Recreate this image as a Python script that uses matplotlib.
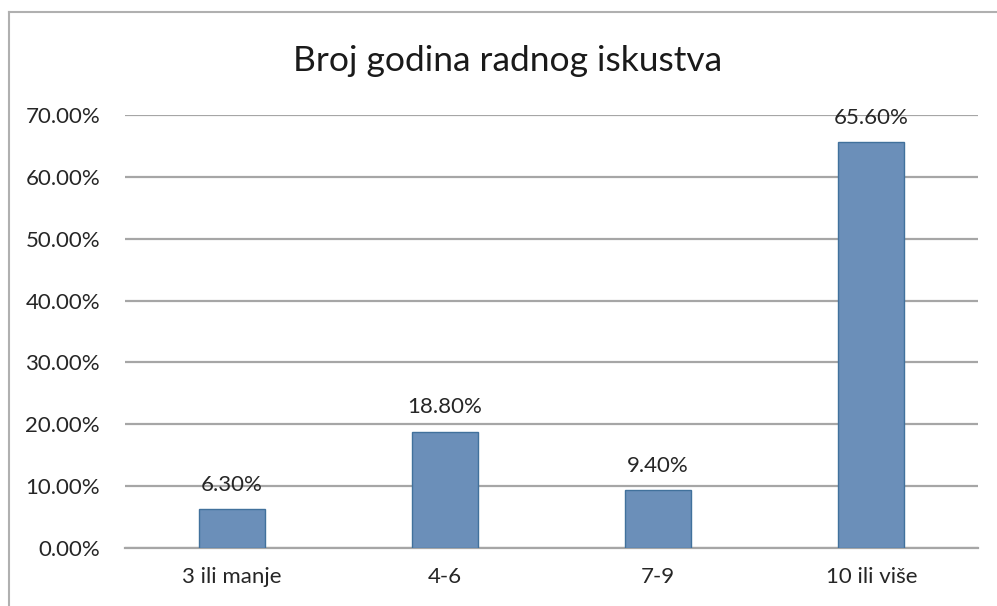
import matplotlib
matplotlib.use("Agg")
import matplotlib.pyplot as plt
import matplotlib.ticker as ticker
from matplotlib.lines import Line2D

categories = ["3 ili manje", "4-6", "7-9", "10 ili više"]
values = [6.3, 18.8, 9.4, 65.6]
yticks = [0, 10, 20, 30, 40, 50, 60, 70]

plt.rcParams['font.family'] = ['Lato', 'DejaVu Sans']

fig = plt.figure(figsize=(9.97, 6.06), dpi=100)
ax = fig.add_axes([0.1254, 0.0957, 0.8556, 0.7145])

x = range(len(categories))
ax.bar(x, values, width=0.31, color="#6b8fb9", edgecolor="#41719c", linewidth=1, zorder=3)
for i, v in zip(x, values):
    ax.text(i, v + 2.3, "%.2f%%" % v, ha="center", va="bottom", fontsize=16, color="#262626", zorder=4)

ax.set_xlim(-0.5, len(categories) - 0.5)
ax.set_ylim(0, 70)
ax.set_yticks(yticks)
ax.yaxis.set_major_formatter(ticker.FuncFormatter(lambda v, p: "%.2f%%" % v))
ax.set_xticks(list(x))
ax.set_xticklabels(categories)
ax.tick_params(axis="both", length=0, labelsize=16, labelcolor="#262626")
ax.tick_params(axis="y", pad=18)
ax.tick_params(axis="x", pad=14)
ax.grid(axis="y", color="#a6a6a6", linewidth=1.6, zorder=0)
for s in ["top", "right", "left"]:
    ax.spines[s].set_visible(False)
ax.spines["bottom"].set_color("#a6a6a6")
ax.spines["bottom"].set_linewidth(1.6)

fig.text(0.509, 0.9, "Broj godina radnog iskustva", ha="center", va="center", fontsize=25.5, color="#1a1a1a")

# chart border (cropped at right and bottom)
fig.add_artist(Line2D([0.009, 1.0], [0.98, 0.98], color="#b0b0b0", linewidth=1.5, transform=fig.transFigure))
fig.add_artist(Line2D([0.009, 0.009], [0.0, 0.98], color="#b0b0b0", linewidth=1.5, transform=fig.transFigure))

fig.savefig("out.png", dpi=100)
